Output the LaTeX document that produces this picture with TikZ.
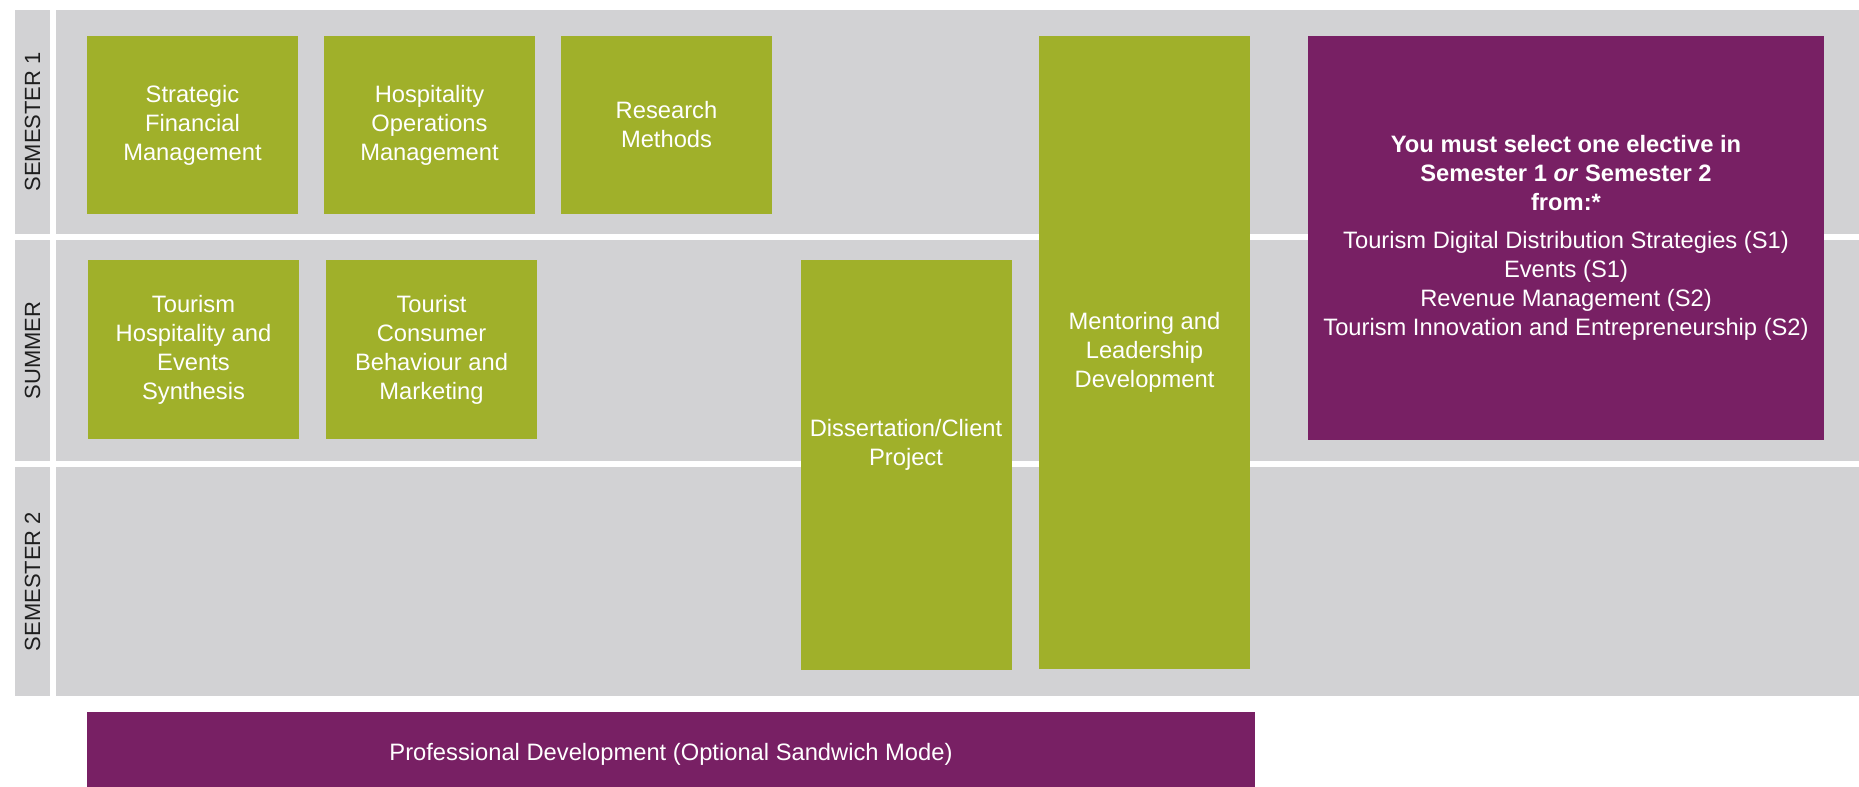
\documentclass[tikz,border=0pt]{standalone}
\usepackage{fontspec}
\setmainfont{Liberation Sans}
\setsansfont{Liberation Sans}
\definecolor{bandgray}{RGB}{210,210,212}
\definecolor{modulegreen}{RGB}{160,176,42}
\definecolor{electivepurple}{RGB}{120,32,100}
\definecolor{tagink}{RGB}{30,30,30}

\begin{document}
\begin{tikzpicture}[
    every node/.style={font=\sffamily\fontsize{13.5}{16.5}\selectfont, inner sep=0pt},
    band/.style={fill=bandgray, minimum width=36.06cm, minimum height=#1},
    tag/.style={fill=bandgray, rotate=90, minimum width=#1, minimum height=0.7cm, text=tagink, font=\sffamily\fontsize{12.5}{15}\selectfont},
    module/.style={fill=modulegreen, minimum width=4.22cm, minimum height=#1, align=center, text=white},
    modtext/.style={align=center, text=white},
    elective/.style={fill=electivepurple, minimum width=#1, align=center, text=white},
]
\useasboundingbox (0,0) rectangle (37.18,15.74);

%% Rows
\node[band=4.48cm] (row1) at (19.15, 13.30) {};
\node[band=4.42cm] (row2) at (19.15, 8.73) {};
\node[band=4.58cm] (row3) at (19.15, 4.11) {};

\node[tag=4.48cm] (sem1) at (0.65, 13.30) {SEMESTER 1};
\node[tag=4.42cm] (summer) at (0.65, 8.73) {SUMMER};
\node[tag=4.58cm] (sem2) at (0.65, 4.11) {SEMESTER 2};

%% Semester 1 modules
\node[module=3.56cm] (sfm) at (3.85, 13.24) {Strategic\\Financial\\Management};
\node[module=3.56cm] (hom) at (8.59, 13.24) {Hospitality\\Operations\\Management};
\node[module=3.56cm] (rm) at (13.33, 13.24) {Research\\Methods};

%% Summer modules
\node[module=3.58cm] (thes) at (3.87, 8.75) {Tourism\\Hospitality and\\Events\\Synthesis};
\node[module=3.58cm] (tcbm) at (8.63, 8.75) {Tourist\\Consumer\\Behaviour and\\Marketing};

%% Modules running across rows
\node[module=8.2cm, label={[modtext, yshift=0.41cm]center:Dissertation/Client\\Project}] (diss) at (18.12, 6.44) {};
\node[module=12.66cm] (mentor) at (22.89, 8.69) {Mentoring and\\Leadership\\Development};

%% Electives
\node[elective=10.32cm, minimum height=8.08cm] (electives) at (31.32, 10.98) {%
\textbf{You must select one elective in}\\
\textbf{Semester 1 \textit{or} Semester 2}\\
\textbf{from:*}\\[0.18cm]
Tourism Digital Distribution Strategies (S1)\\
Events (S1)\\
Revenue Management (S2)\\
Tourism Innovation and Entrepreneurship (S2)};

%% Optional placement
\node[elective=23.36cm, minimum height=1.7cm] (profdev) at (13.42, 0.65) {Professional Development (Optional Sandwich Mode)};

\end{tikzpicture}
\end{document}
